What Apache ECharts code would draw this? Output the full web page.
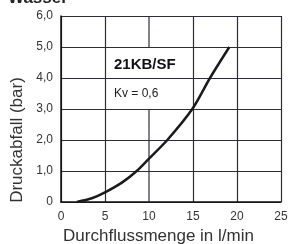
<!DOCTYPE html>
<html><head><meta charset="utf-8">
<script src="https://cdn.jsdelivr.net/npm/echarts@6/dist/echarts.min.js"></script>
<style>html,body{margin:0;padding:0;background:#fff}#c{width:288px;height:244px}</style>
</head><body><div id="c"></div>
<script>
var flow = [1.8, 3.5, 5, 7, 8.6, 10, 12.08, 14.92, 16.93, 19.13];
var drop = [0, 0.12, 0.31, 0.64, 1.0, 1.4, 2.0, 3.0, 4.0, 5.0];
var xTicks = [0, 5, 10, 15, 20, 25];
var yTicks = [0, 1, 2, 3, 4, 5, 6];
var curveName = '21KB/SF';
var kvText = 'Kv = 0,6';
var titleText = 'Wasser';
var xName = 'Durchflussmenge in l/min';
var yName = 'Druckabfall (bar)';

var pts = flow.map(function (x, i) { return [x, drop[i]]; });
var F = 'Liberation Sans';
var G = '#2c2c3a';
var xMin = xTicks[0], xMax = xTicks[xTicks.length - 1];
var yMin = yTicks[0], yMax = yTicks[yTicks.length - 1];
// x = 10 grid line is interrupted by the label box: hidden in splitLine, drawn as two pieces
var xSplitColors = xTicks.map(function (t) { return t === 10 ? 'rgba(0,0,0,0)' : G; });

var chart = echarts.init(document.getElementById('c'), null, {renderer: 'canvas'});
chart.setOption({
  animation: false,
  title: [
    {text: titleText, left: 8, top: -10, padding: 0, textStyle: {fontFamily: F, fontSize: 17, fontWeight: 'bold', color: '#222'}},
    {text: curveName, left: 114, top: 57, padding: 0, textStyle: {fontFamily: F, fontSize: 15, fontWeight: 'bold', color: '#111'}},
    {text: kvText, left: 114, top: 88, padding: 0, textStyle: {fontFamily: F, fontSize: 12, fontWeight: 'normal', color: '#222'}}
  ],
  grid: {left: 61, right: 7, top: 16, bottom: 42, outerBoundsMode: 'none', containLabel: false},
  xAxis: {
    type: 'value', min: xMin, max: xMax, interval: 5,
    name: xName, nameLocation: 'middle', nameGap: 18,
    nameTextStyle: {fontFamily: F, fontSize: 17, color: '#333', padding: [0, 25, 0, 0]},
    axisLine: {lineStyle: {color: '#111', width: 1.5}},
    axisTick: {show: false},
    axisLabel: {fontFamily: F, fontSize: 12, color: '#333', margin: 9},
    splitLine: {show: true, lineStyle: {color: xSplitColors, width: 1.2}}
  },
  yAxis: {
    type: 'value', min: yMin, max: yMax, interval: 1,
    name: yName, nameLocation: 'middle', nameGap: 33,
    nameTextStyle: {fontFamily: F, fontSize: 17, color: '#333', padding: [0, 62, 0, 0]},
    axisLine: {show: true, lineStyle: {color: '#111', width: 1.5}},
    axisTick: {show: false},
    axisLabel: {fontFamily: F, fontSize: 12, color: '#333', margin: 8,
      formatter: function (v) { return v === 0 ? '0' : v.toFixed(1).replace('.', ','); }},
    splitLine: {show: true, lineStyle: {color: G, width: 1.2}}
  },
  series: [
    {type: 'line', data: [[10, yMax], [10, 5]], symbol: 'none', lineStyle: {color: G, width: 1.2}},
    {type: 'line', data: [[10, 3], [10, yMin]], symbol: 'none', lineStyle: {color: G, width: 1.2}},
    {type: 'line', data: pts, smooth: 0.3, symbol: 'none', lineStyle: {color: '#1a1a1a', width: 2.5}}
  ]
});
</script></body></html>
